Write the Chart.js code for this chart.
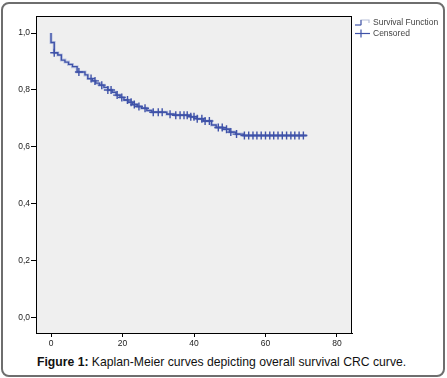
<!DOCTYPE html>
<html>
<head>
<meta charset="utf-8">
<script src="https://cdn.jsdelivr.net/npm/chart.js@4.4.1/dist/chart.umd.min.js"></script>
<style>
  body { margin: 0; width: 447px; height: 378px; background: #fff; position: relative; overflow: hidden; font-family: "Liberation Sans", Arial, sans-serif; }
  #frame { position: absolute; left: 1px; top: 2px; width: 440px; height: 371px; border: 2px solid #6e6e6e; border-radius: 8px; }
  #wrap { position: absolute; left: 0; top: 0; width: 447px; height: 350px; }
  #legend { position: absolute; left: 354px; top: 17px; font-size: 8.5px; color: #444; line-height: 11px; }
  #legend div { display: flex; align-items: center; height: 11px; }
  #legend svg { margin-right: 2px; }
  #caption { position: absolute; left: 37px; top: 355px; font-size: 12.2px; color: #111; white-space: nowrap; }
</style>
</head>
<body>
<div id="frame"></div>
<div id="wrap"><canvas id="kmChart" width="447" height="350"></canvas></div>
<div id="legend">
  <div><svg width="17" height="9"><polyline points="1,7 7,7 7,2 15,2 15,5" fill="none" stroke="#b8bfd8" stroke-width="1.2"/><polyline points="1,7 7,7 7,2" fill="none" stroke="#3f52a8" stroke-width="1"/></svg>Survival Function</div>
  <div><svg width="17" height="9"><line x1="1" y1="4.5" x2="16" y2="4.5" stroke="#3f52a8" stroke-width="1.2"/><line x1="7" y1="0.5" x2="7" y2="8.5" stroke="#3f52a8" stroke-width="1.2"/></svg>Censored</div>
</div>
<div id="caption"><b>Figure 1:</b> Kaplan-Meier curves depicting overall survival CRC curve.</div>
<script>
// event times (months) and survival after each event
const eventTimes = [0, 0.9, 1.9, 2.9, 3.9, 4.9, 6.0, 7.3, 9.5, 10.3, 11.6, 12.5, 13.6, 14.8, 15.9, 17.1, 18.2, 19.3, 20.4, 21.5, 22.8, 24.1, 25.3, 26.8, 28.2, 32.4, 34.7, 39.1, 40.9, 42.6, 44.9, 46.2, 48.0, 49.9, 51.7, 53.8];
const survival = [0.967, 0.931, 0.923, 0.905, 0.898, 0.890, 0.882, 0.863, 0.853, 0.840, 0.832, 0.824, 0.817, 0.809, 0.800, 0.792, 0.782, 0.774, 0.765, 0.757, 0.749, 0.742, 0.736, 0.728, 0.722, 0.715, 0.711, 0.706, 0.699, 0.691, 0.677, 0.668, 0.662, 0.652, 0.645, 0.640];
const lastTime = 71.5;
const censoredTimes = [0.9, 7.8, 11.2, 12.3, 14.2, 15.9, 16.8, 18.5, 19.8, 21.4, 22.4, 23.3, 24.6, 26.3, 28.6, 30.0, 31.1, 33.3, 34.9, 36.1, 37.2, 38.1, 39.1, 40.0, 40.9, 42.2, 43.1, 44.3, 46.8, 47.9, 49.1, 50.3, 51.9, 54.1, 55.3, 56.5, 57.6, 58.8, 60.0, 61.2, 62.3, 63.5, 64.7, 65.9, 67.1, 68.2, 69.4, 70.6];
const xTicks = [0, 20, 40, 60, 80];
const yTicks = [0, 0.2, 0.4, 0.6, 0.8, 1.0];

function survAt(t) {
	let s = 1;
	for (let i = 0; i < eventTimes.length; i++) {
		if (eventTimes[i] <= t) s = survival[i];
	}
	return s;
}

var curve = [{ x: 0, y: 1 }];
for (let i = 0; i < eventTimes.length; i++) curve.push({ x: eventTimes[i], y: survival[i] });
curve.push({ x: lastTime, y: survival[survival.length - 1] });

var censored = censoredTimes.map(t => ({ x: t, y: survAt(t) }));

const plotFrame = {
	id: "plotFrame",
	beforeDatasetsDraw(chart) {
		const a = chart.chartArea, ctx = chart.ctx;
		ctx.save();
		ctx.fillStyle = "#efefef";
		ctx.fillRect(a.left, a.top, a.right - a.left, a.bottom - a.top);
		ctx.restore();
	},
	afterDraw(chart) {
		const a = chart.chartArea, ctx = chart.ctx;
		ctx.save();
		ctx.strokeStyle = "#000";
		ctx.lineWidth = 1;
		ctx.strokeRect(a.left + 0.5, a.top + 0.5, a.right - a.left - 1, a.bottom - a.top);
		ctx.restore();
	},
};

const myChart = new Chart(document.getElementById("kmChart").getContext("2d"), {
	type: "scatter",
	data: {
		datasets: [
			{
				label: "Censored",
				data: censored,
				showLine: false,
				pointStyle: "cross",
				pointRadius: 4,
				borderColor: "#3f52a8",
				borderWidth: 1.4,
			},
			{
				label: "Survival Function",
				data: curve,
				showLine: true,
				stepped: true,
				pointRadius: 0,
				borderColor: "#3f52a8",
				borderWidth: 1.4,
			},
			{
				label: "halo",
				data: curve,
				showLine: true,
				stepped: true,
				pointRadius: 0,
				borderColor: "rgba(150,165,215,0.55)",
				borderWidth: 3,
			},
		],
	},
	options: {
		responsive: false,
		animation: false,
		layout: { padding: { top: 16, right: 95, left: 0, bottom: 0 } },
		plugins: { legend: { display: false }, tooltip: { enabled: false } },
		scales: {
			x: {
				type: "linear",
				min: -4.2,
				max: 84.2,
				afterBuildTicks: s => { s.ticks = xTicks.map(v => ({ value: v })); },
				afterFit: s => { s.height = 17; },
				grid: { drawOnChartArea: false, drawTicks: true, tickLength: 4, color: "#000" },
				border: { display: true, color: "#000" },
				ticks: { color: "#222", font: { family: "Liberation Sans", size: 8.5 }, padding: 2, maxRotation: 0 },
			},
			y: {
				min: -0.054,
				max: 1.06,
				afterBuildTicks: s => { s.ticks = yTicks.map(v => ({ value: v })); },
				afterFit: s => { s.width = 36; },
				grid: { drawOnChartArea: false, drawTicks: true, tickLength: 5, color: "#000" },
				border: { display: true, color: "#000" },
				ticks: {
					color: "#222",
					font: { family: "Liberation Sans", size: 8.5 },
					padding: 1,
					callback: v => v.toFixed(1).replace(".", ","),
				},
			},
		},
	},
	plugins: [plotFrame],
});
</script>
</body>
</html>
